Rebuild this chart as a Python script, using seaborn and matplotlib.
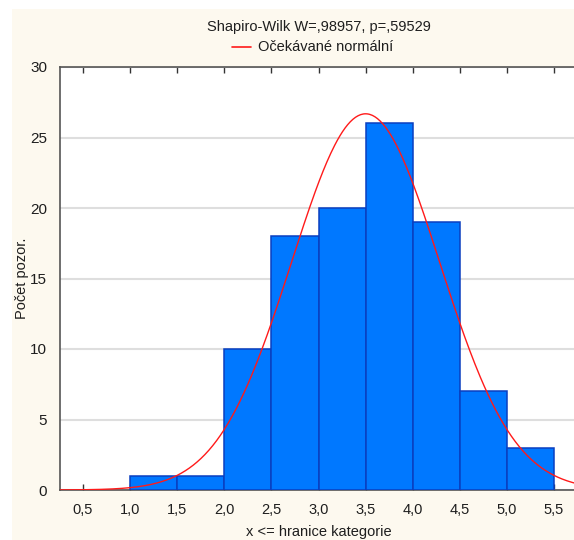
import numpy as np
import pandas as pd
import matplotlib
matplotlib.use("Agg")
import matplotlib.pyplot as plt
import seaborn as sns

# Histogram bins (upper bounds "x <= hranice") and observed counts
bin_edges = [1.0, 1.5, 2.0, 2.5, 3.0, 3.5, 4.0, 4.5, 5.0, 5.5]
counts = [1, 1, 10, 18, 20, 26, 19, 7, 3]
x_ticks = [0.5, 1.0, 1.5, 2.0, 2.5, 3.0, 3.5, 4.0, 4.5, 5.0, 5.5]
y_ticks = [0, 5, 10, 15, 20, 25, 30]

# Fitted normal parameters for the expected curve
fit_mean = 3.50
fit_sd = 0.785

title = "Shapiro-Wilk W=,98957, p=,59529"
legend_label = "Očekávané normální"
x_label = "x <= hranice kategorie"
y_label = "Počet pozor."

sns.set_theme(style="white")
plt.rcParams["font.family"] = ["Liberation Sans", "DejaVu Sans"]
FS = 10.5
TXT = "#1e1e1e"

W, H = 574, 540
fig = plt.figure(figsize=(W / 100, H / 100), dpi=100, facecolor="white")

# cream panel behind the chart
bg = fig.add_axes([12 / W, 0, 1 - 12 / W, 1 - 9 / H], zorder=-5)
bg.set_facecolor("#fdf9ef")
bg.set_xticks([])
bg.set_yticks([])
for s in bg.spines.values():
    s.set_visible(False)

left, right, top, bottom = 59.5, 577.5, 67, 490
ax = fig.add_axes([left / W, 1 - bottom / H, (right - left) / W, (bottom - top) / H], zorder=1)
ax.set_facecolor("white")

centers = [(a + b) / 2 for a, b in zip(bin_edges[:-1], bin_edges[1:])]
df = pd.DataFrame({"x": centers, "n": counts})
sns.histplot(data=df, x="x", weights="n", bins=bin_edges, ax=ax,
             color="#0078ff", edgecolor="#0a3fc0", linewidth=1.1, alpha=1, zorder=3)

# expected normal frequencies for bin width 0.5
bw = bin_edges[1] - bin_edges[0]
total = sum(counts)
xs = np.linspace(0.25, 5.75, 400)
ys = total * bw * np.exp(-0.5 * ((xs - fit_mean) / fit_sd) ** 2) / (fit_sd * np.sqrt(2 * np.pi))
sns.lineplot(x=xs, y=ys, ax=ax, color="#ff1a1a", linewidth=1.0, zorder=4)

ax.set_xlim(0.25, 5.75)
ax.set_ylim(0, 30)
ax.set_xticks(x_ticks)
ax.set_xticklabels([f"{v:.1f}".replace(".", ",") for v in x_ticks], fontsize=FS, color=TXT)
ax.set_yticks(y_ticks)
ax.set_yticklabels([str(v) for v in y_ticks], fontsize=FS + 0.5, color=TXT)
ax.tick_params(axis="x", direction="in", length=4, width=1, color="#333333",
               top=True, bottom=True, pad=9)
ax.tick_params(axis="y", length=0, pad=9)
ax.yaxis.grid(True, color="#dedede", linewidth=1.5, zorder=0)
ax.set_axisbelow(True)

for s in ["left", "bottom", "top"]:
    ax.spines[s].set_color("#555555")
    ax.spines[s].set_linewidth(1.2)
ax.spines["right"].set_visible(False)

ax.set_xlabel(x_label, fontsize=FS, color=TXT)
ax.set_ylabel(y_label, fontsize=FS, color=TXT)
ax.xaxis.set_label_coords(((left + right) / 2 - left) / (right - left), -(532 - bottom) / (bottom - top))
ax.xaxis.label.set_va("center")
ax.yaxis.set_label_coords(-(left - 22.5) / (right - left), 0.5)
ax.yaxis.label.set_va("center")

cx = ((left + right) / 2) / W
fig.text(cx, 1 - 27 / H, title, ha="center", va="center", fontsize=FS, color=TXT)
fig.lines.append(plt.Line2D([232 / W, 251 / W], [1 - 47 / H, 1 - 47 / H],
                            transform=fig.transFigure, color="#ff1a1a", linewidth=1.2))
fig.text(258 / W, 1 - 47 / H, legend_label, ha="left", va="center", fontsize=FS, color=TXT)

fig.savefig("out.png", dpi=100, facecolor=fig.get_facecolor())
